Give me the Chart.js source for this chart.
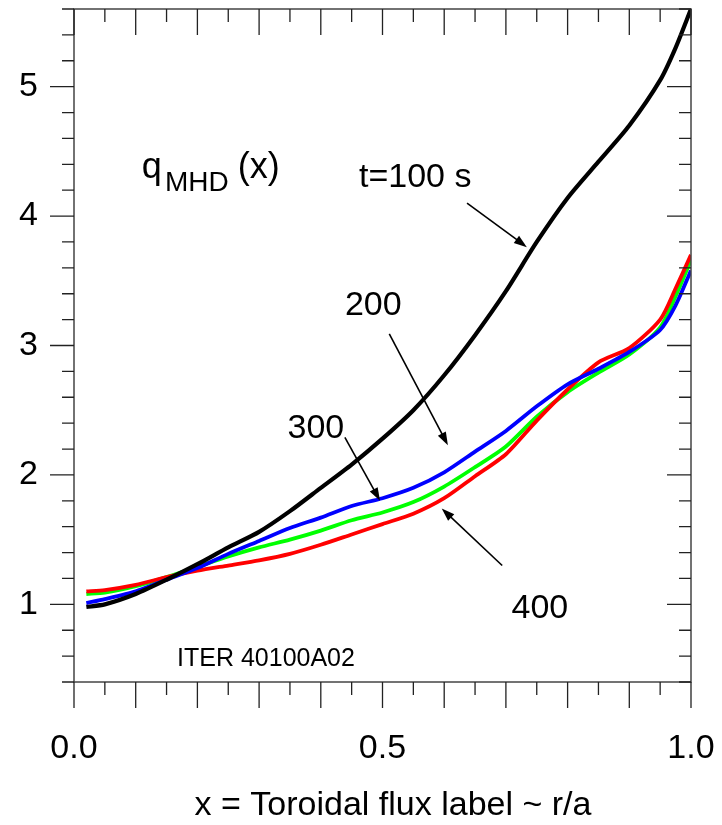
<!DOCTYPE html>
<html>
<head>
<meta charset="utf-8">
<script src="https://cdn.jsdelivr.net/npm/chart.js@4.4.0/dist/chart.umd.min.js"></script>
<style>
  html, body { margin: 0; padding: 0; background: #fff; }
  canvas { display: block; }
</style>
</head>
<body>
<canvas id="q-profile" width="722" height="825"></canvas>
<script>
// radial positions (toroidal flux label) and q profiles
const xPos = [0.02, 0.05, 0.10, 0.15, 0.20, 0.25, 0.30, 0.35, 0.40, 0.45, 0.50,
  0.55, 0.60, 0.65, 0.70, 0.75, 0.80, 0.85, 0.90, 0.95, 0.975, 1.00]
const q100 = [0.98, 1.00, 1.08, 1.19, 1.31, 1.44, 1.56, 1.72, 1.90, 2.08, 2.28,
  2.50, 2.77, 3.08, 3.42, 3.80, 4.14, 4.42, 4.70, 5.05, 5.30, 5.60]
const q200 = [1.01, 1.04, 1.10, 1.19, 1.28, 1.39, 1.49, 1.59, 1.67, 1.76, 1.82,
  1.90, 2.02, 2.18, 2.34, 2.53, 2.70, 2.82, 2.95, 3.12, 3.31, 3.58]
const q300 = [1.08, 1.09, 1.14, 1.21, 1.29, 1.37, 1.44, 1.50, 1.57, 1.65, 1.71,
  1.79, 1.91, 2.06, 2.22, 2.45, 2.64, 2.79, 2.93, 3.14, 3.38, 3.66]
const q400 = [1.10, 1.11, 1.15, 1.21, 1.26, 1.30, 1.34, 1.39, 1.46, 1.54, 1.62,
  1.70, 1.82, 1.99, 2.16, 2.42, 2.66, 2.87, 2.98, 3.20, 3.44, 3.70]

const xTickLabels = [0, 0.5, 1]
const yTickLabels = [1, 2, 3, 4, 5]
const xTitle = 'x = Toroidal flux label ~ r/a'

const FONT = '"Liberation Sans", Arial, sans-serif'
const toPoints = ys => xPos.map((x, i) => ({ x, y: ys[i] }))

// text labels and arrows, placed in data coordinates
const textNotes = [
  { text: 't=100 s', x: 0.553, y: 4.30 },
  { text: '200', x: 0.485, y: 3.31 },
  { text: '300', x: 0.392, y: 2.36 },
  { text: '400', x: 0.755, y: 0.97 },
]
const arrows = [
  { from: [0.637, 4.10], to: [0.734, 3.76] },
  { from: [0.511, 3.09], to: [0.606, 2.23] },
  { from: [0.439, 2.29], to: [0.496, 1.80] },
  { from: [0.694, 1.30], to: [0.596, 1.74] },
]

const drawArrow = (ctx, x0, y0, x1, y1) => {
  const ang = Math.atan2(y1 - y0, x1 - x0)
  const len = 13
  const half = 4.5
  ctx.beginPath()
  ctx.moveTo(x0, y0)
  ctx.lineTo(x1 - Math.cos(ang) * len * 0.8, y1 - Math.sin(ang) * len * 0.8)
  ctx.stroke()
  ctx.beginPath()
  ctx.moveTo(x1, y1)
  ctx.lineTo(x1 - Math.cos(ang) * len - Math.sin(ang) * half, y1 - Math.sin(ang) * len + Math.cos(ang) * half)
  ctx.lineTo(x1 - Math.cos(ang) * len + Math.sin(ang) * half, y1 - Math.sin(ang) * len - Math.cos(ang) * half)
  ctx.closePath()
  ctx.fill()
}

// chart.js adds ticks.padding to the label overflow; drop it so the frame sits where we want
const fixBox = (s, key, size) => {
  s[key] = size
  s.paddingTop = 0
  s.paddingBottom = 0
  s.paddingLeft = 0
  s.paddingRight = 0
}

const framePlugin = {
  id: 'frame',
  afterDatasetsDraw(chart) {
    const { ctx, chartArea: a, scales: { x, y } } = chart
    ctx.save()
    ctx.fillStyle = '#000'

    // frame
    ctx.lineWidth = 1.5
    ctx.strokeStyle = '#444'
    ctx.strokeRect(a.left, a.top, a.right - a.left, a.bottom - a.top)

    // x ticks every 0.05, long every 0.1
    ctx.strokeStyle = '#222'
    ctx.lineWidth = 1.3
    for (let i = 0; i <= 20; i++) {
      const px = x.getPixelForValue(i * 0.05)
      const len = i % 2 === 0 ? 26 : 13
      ctx.beginPath()
      ctx.moveTo(px, a.bottom); ctx.lineTo(px, a.bottom + len)
      ctx.moveTo(px, a.top); ctx.lineTo(px, a.top + len)
      ctx.stroke()
    }
    // y ticks every 0.2, long at integers
    for (let i = 2; i <= 28; i++) {
      const py = y.getPixelForValue(i * 0.2)
      const len = i % 5 === 0 ? 24 : 12
      ctx.beginPath()
      ctx.moveTo(a.left - len, py); ctx.lineTo(a.left, py)
      ctx.moveTo(a.right - len, py); ctx.lineTo(a.right, py)
      ctx.stroke()
    }

    // q_MHD(x) label
    ctx.textBaseline = 'alphabetic'
    ctx.textAlign = 'left'
    let qx = x.getPixelForValue(0.110)
    const qy = y.getPixelForValue(4.295)
    ctx.font = '36px ' + FONT
    ctx.fillText('q', qx, qy)
    qx += ctx.measureText('q').width + 3
    ctx.font = '28px ' + FONT
    ctx.fillText('MHD', qx, qy + 13)
    qx += ctx.measureText('MHD').width + 9
    ctx.font = '36px ' + FONT
    ctx.fillText('(x)', qx, qy)

    // curve labels
    ctx.font = '34px ' + FONT
    ctx.textAlign = 'center'
    ctx.textBaseline = 'middle'
    textNotes.forEach(n => {
      ctx.fillText(n.text, x.getPixelForValue(n.x), y.getPixelForValue(n.y))
    })

    // x axis title, sits a little right of centre in the original
    ctx.textBaseline = 'alphabetic'
    ctx.fillText(xTitle, x.getPixelForValue(0.517), chart.height - 10)

    // id tag
    ctx.font = '25px ' + FONT
    ctx.textAlign = 'left'
    ctx.fillText('ITER 40100A02', x.getPixelForValue(0.167), y.getPixelForValue(0.52))

    // arrows
    ctx.strokeStyle = '#000'
    ctx.lineWidth = 1.6
    arrows.forEach(r => {
      drawArrow(ctx,
        x.getPixelForValue(r.from[0]), y.getPixelForValue(r.from[1]),
        x.getPixelForValue(r.to[0]), y.getPixelForValue(r.to[1]))
    })
    ctx.restore()
  },
}

const dataQ = {
  datasets: [
    { data: toPoints(q100), borderColor: '#000000', borderWidth: 4.2 },
    { data: toPoints(q200), borderColor: '#0000ff', borderWidth: 3.8 },
    { data: toPoints(q400), borderColor: '#ff0000', borderWidth: 3.8 },
    { data: toPoints(q300), borderColor: '#00ff00', borderWidth: 3.8 },
  ],
}

const configQ = {
  type: 'line',
  data: dataQ,
  options: {
    responsive: false,
    animation: false,
    layout: { padding: { top: 9, right: 31, left: 0, bottom: 0 } },
    plugins: { legend: { display: false }, tooltip: { enabled: false } },
    elements: { point: { radius: 0 }, line: { tension: 0.25, fill: false } },
    scales: {
      x: {
        type: 'linear',
        min: 0,
        max: 1,
        grid: { display: false, drawTicks: false },
        border: { display: false },
        afterBuildTicks: s => { s.ticks = xTickLabels.map(v => ({ value: v })) },
        afterFit: s => fixBox(s, 'height', 143),
        ticks: {
          font: { family: FONT, size: 34 },
          color: '#000',
          padding: 46,
          maxRotation: 0,
          autoSkip: false,
          callback: v => v.toFixed(1),
        },
      },
      y: {
        type: 'linear',
        min: 0.4,
        max: 5.6,
        grid: { display: false, drawTicks: false },
        border: { display: false },
        afterBuildTicks: s => { s.ticks = yTickLabels.map(v => ({ value: v })) },
        afterFit: s => fixBox(s, 'width', 74),
        ticks: {
          font: { family: FONT, size: 34 },
          color: '#000',
          padding: 36,
          callback: v => String(v),
        },
      },
    },
  },
  plugins: [framePlugin],
}

const qChart = new Chart(document.getElementById('q-profile').getContext('2d'), configQ)
</script>
</body>
</html>
